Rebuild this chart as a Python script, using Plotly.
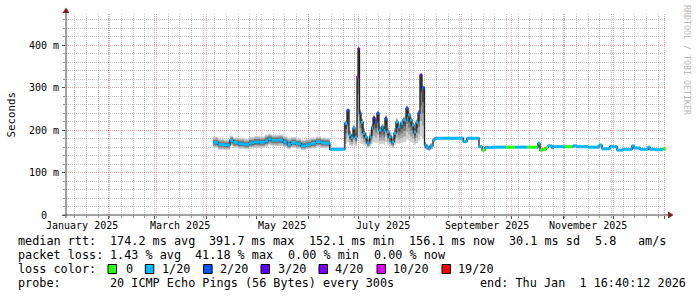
import plotly.graph_objects as go
from datetime import datetime, timedelta

# ---------------- data ----------------
times = [
    "2025-04-05 00:00", "2025-04-08 00:00", "2025-04-11 12:00", "2025-04-15 00:00", "2025-04-17 00:00",
    "2025-04-20 00:00", "2025-04-23 12:00", "2025-04-26 12:00", "2025-04-29 12:00", "2025-05-03 00:00",
    "2025-05-06 00:00", "2025-05-08 00:00", "2025-05-10 00:00", "2025-05-14 00:00", "2025-05-17 00:00",
    "2025-05-19 12:00", "2025-05-21 16:00", "2025-05-24 16:00", "2025-05-27 16:00", "2025-05-30 16:00",
    "2025-06-02 16:00", "2025-06-05 16:00", "2025-06-08 16:00", "2025-06-11 16:00", "2025-06-14 00:00",
    "2025-06-23 00:00", "2025-06-24 07:00", "2025-06-25 12:00", "2025-06-26 17:00", "2025-06-27 22:00",
    "2025-06-29 02:00", "2025-06-30 07:00", "2025-06-30 22:00", "2025-07-01 19:00", "2025-07-02 17:00",
    "2025-07-03 22:00", "2025-07-05 02:00", "2025-07-06 07:00", "2025-07-07 19:00", "2025-07-09 00:00",
    "2025-07-09 22:00", "2025-07-11 02:00", "2025-07-12 07:00", "2025-07-13 12:00", "2025-07-15 00:00",
    "2025-07-16 05:00", "2025-07-17 02:00", "2025-07-18 07:00", "2025-07-19 12:00", "2025-07-21 00:00",
    "2025-07-22 12:00", "2025-07-23 17:00", "2025-07-24 22:00", "2025-07-26 10:00", "2025-07-27 22:00",
    "2025-07-29 17:00", "2025-07-30 22:00", "2025-08-01 02:00", "2025-08-02 07:00", "2025-08-03 12:00",
    "2025-08-04 17:00", "2025-08-05 22:00", "2025-08-07 02:00", "2025-08-08 07:00", "2025-08-09 19:00",
    "2025-08-10 17:00", "2025-08-11 22:00", "2025-08-13 02:00", "2025-08-14 22:00", "2025-08-16 02:00",
    "2025-09-02 00:00", "2025-09-04 07:00", "2025-09-11 12:00", "2025-09-13 07:00", "2025-09-15 02:00",
    "2025-09-19 07:00", "2025-09-27 17:00", "2025-10-03 02:00", "2025-10-10 07:00", "2025-10-16 07:00",
    "2025-10-16 22:00", "2025-10-18 02:00", "2025-10-19 22:00", "2025-10-21 17:00", "2025-10-22 22:00",
    "2025-10-25 07:00", "2025-10-25 22:00", "2025-11-02 02:00", "2025-11-06 07:00", "2025-11-06 22:00",
    "2025-11-09 07:00", "2025-11-15 22:00", "2025-11-22 12:00", "2025-11-24 07:00", "2025-11-29 02:00",
    "2025-12-03 07:00", "2025-12-06 22:00", "2025-12-12 07:00", "2025-12-13 12:00", "2025-12-17 02:00",
    "2025-12-21 22:00", "2025-12-23 02:00", "2025-12-26 02:00", "2025-12-30 22:00",
]
median_ms = [
    171, 166, 165, 176, 171, 168, 166, 170, 172, 171,
    175, 179, 176, 177, 172, 166, 171, 168, 163, 166,
    169, 173, 170, 169, 155,
    216, 247, 189, 182, 205, 184, 326, 392, 240, 219,
    193, 184, 170, 184, 205, 229, 219, 240, 200, 207,
    200, 228, 196, 184, 172, 193, 219, 208, 216, 224,
    252, 236, 224, 212, 196, 219, 240, 330, 300, 165,
    160, 156, 163, 177, 181,
    173, 181, 161, 153, 159, 160, 160, 160, 160, 160,
    169, 153, 155, 159, 163, 158, 161, 161, 161, 163,
    161, 160, 165, 156, 161, 153, 155, 163, 158, 155,
    160, 155, 154, 156,
]
smoke_lo_ms = [
    158, 154, 153, 162, 158, 156, 155, 157, 158, 158,
    161, 164, 162, 163, 160, 155, 158, 156, 153, 155,
    157, 160, 158, 158, 152,
    168, 172, 165, 162, 168, 163, 175, 180, 170, 168,
    165, 162, 158, 162, 168, 172, 170, 172, 166, 168,
    166, 172, 165, 162, 158, 165, 170, 168, 170, 172,
    178, 175, 172, 170, 166, 170, 175, 185, 180, 155,
    153, 152, 155, 172, 178,
    170, 178, 158, 151, 156, 157, 157, 157, 157, 157,
    160, 151, 153, 157, 160, 156, 158, 158, 158, 160,
    158, 157, 160, 153, 158, 151, 153, 157, 155, 153,
    155, 153, 152, 154,
]
smoke_hi_ms = [
    184, 180, 178, 187, 183, 182, 180, 184, 186, 185,
    190, 192, 189, 190, 186, 182, 184, 181, 178, 180,
    183, 185, 183, 182, 159,
    222, 250, 200, 192, 212, 195, 330, 394, 250, 228,
    205, 195, 182, 195, 215, 235, 228, 245, 210, 215,
    208, 235, 205, 195, 185, 205, 228, 215, 222, 232,
    258, 245, 232, 220, 206, 226, 248, 333, 305, 172,
    168, 165, 170, 181, 184,
    176, 184, 164, 156, 162, 163, 163, 163, 163, 163,
    171, 156, 158, 162, 166, 161, 164, 164, 164, 166,
    164, 163, 167, 159, 164, 156, 158, 165, 161, 158,
    162, 158, 157, 159,
]
loss_level = [
    1, 1, 1, 1, 1, 1, 1, 1, 1, 1,
    1, 1, 1, 1, 1, 1, 1, 1, 1, 1,
    1, 1, 1, 1, 1,
    1, 2, 1, 1, 1, 1, 5, 4, 2, 1,
    1, 1, 1, 1, 1, 3, 2, 2, 1, 1,
    1, 2, 1, 1, 1, 1, 1, 1, 1, 1,
    2, 1, 1, 1, 1, 1, 2, 3, 2, 1,
    1, 1, 1, 1, 1,
    1, 1, 1, 0, 1, 1, 0, 1, 0, 1,
    1, 0, 0, 0, 1, 1, 1, 0, 1, 1,
    1, 1, 1, 1, 1, 1, 1, 1, 1, 1,
    1, 1, 1, 0,
]
end_time = "2026-01-01 16:40:12"
start_time = "2025-01-06 16:40:12"

loss_labels = ["0", "1/20", "2/20", "3/20", "4/20", "10/20", "19/20"]
loss_colors = ["#26ff00", "#00b8ff", "#0059ff", "#5e00ff", "#7e00ff", "#dd00ff", "#ff0000"]

month_grid = ["2025-02-01", "2025-03-01", "2025-04-01", "2025-05-01", "2025-06-01", "2025-07-01",
              "2025-08-01", "2025-09-01", "2025-10-01", "2025-11-01", "2025-12-01", "2026-01-01"]
month_labels = ["January 2025", "March 2025", "May 2025", "July 2025", "September 2025", "November 2025"]
month_label_at = ["2025-01-16", "2025-03-16", "2025-05-16", "2025-07-16", "2025-09-16", "2025-11-16"]
y_major = [0, 100, 200, 300, 400]
y_major_text = ["0", "100 m", "200 m", "300 m", "400 m"]
Y_MAX = 474

stats_rtt = ["174.2 ms avg", "391.7 ms max", "152.1 ms min", "156.1 ms now", "30.1 ms sd", "5.8", "am/s"]
stats_loss = ["1.43 % avg", "41.18 % max", "0.00 % min", "0.00 % now"]
probe_text = "20 ICMP Echo Pings (56 Bytes) every 300s"
end_text = "end: Thu Jan\u00a0\u00a01 16:40:12 2026"

# ---------------- layout geometry (pixels) ----------------
W, H = 697, 297
PL, PR, PT, PB = 66, 666, 14, 215
MONO = "DejaVu Sans Mono"


def fx(px):
    return px / W


def fy(py):
    return 1 - py / H


# weekly minor grid (Sundays)
sundays = []
d = datetime(2025, 1, 12)
while d < datetime(2026, 1, 1, 16):
    sundays.append(d.strftime("%Y-%m-%d"))
    d += timedelta(days=7)
y_minor = [v for v in range(20, 480, 20) if v % 100 != 0]

xs = times + [end_time]
ys = median_ms + [median_ms[-1]]
lo = smoke_lo_ms + [smoke_lo_ms[-1]]
hi = smoke_hi_ms + [smoke_hi_ms[-1]]

fig = go.Figure()

# smoke (shaded bands, darker toward the median)
band_fracs = [1.0, 0.75, 0.5, 0.28]
band_cols = ["#cfcfcf", "#a8a8a8", "#7c7c7c", "#4e4e4e"]
for f, c in zip(band_fracs, band_cols):
    lower = [m - f * (m - l) for m, l in zip(ys, lo)]
    upper = [m + f * (h - m) for m, h in zip(ys, hi)]
    fig.add_trace(go.Scatter(x=xs, y=lower, mode="lines", line=dict(width=0, shape="hv"),
                             hoverinfo="skip", showlegend=False))
    fig.add_trace(go.Scatter(x=xs, y=upper, mode="lines", line=dict(width=0, shape="hv"),
                             fill="tonexty", fillcolor=c, hoverinfo="skip", showlegend=False))

# median line
fig.add_trace(go.Scatter(x=xs, y=ys, mode="lines", line=dict(color="#202020", width=1.3, shape="hv"),
                         hoverinfo="skip", showlegend=False))

# loss-coloured median bands
for k, col in enumerate(loss_colors):
    sx, sy = [], []
    for i in range(len(times)):
        if loss_level[i] == k:
            sx += [xs[i], xs[i + 1], None]
            sy += [ys[i], ys[i], None]
    if sx:
        fig.add_trace(go.Scatter(x=sx, y=sy, mode="lines", line=dict(color=col, width=3),
                                 hoverinfo="skip", showlegend=False))

MINOR_C = "rgba(150,150,150,0.55)"
MAJOR_C = "rgba(222,79,79,0.5)"

fig.update_layout(
    width=W, height=H, margin=dict(l=0, r=0, t=0, b=0),
    paper_bgcolor="white", plot_bgcolor="white", showlegend=False,
    xaxis=dict(domain=[fx(PL), fx(PR)], range=[start_time, end_time], type="date",
               tickmode="array", tickvals=month_grid, showticklabels=False,
               showgrid=True, gridcolor=MAJOR_C, griddash="1px,1px", gridwidth=1,
               ticks="outside", ticklen=3, tickcolor="#555555",
               zeroline=False, showline=False, fixedrange=True,
               minor=dict(tickmode="array", tickvals=sundays, showgrid=True, gridcolor=MINOR_C,
                          griddash="1px,1px", gridwidth=1, ticks="outside", ticklen=2,
                          tickcolor="#999999")),
    yaxis=dict(domain=[fy(PB), fy(PT)], range=[0, Y_MAX],
               tickmode="array", tickvals=y_major, showticklabels=False,
               showgrid=True, gridcolor=MAJOR_C, griddash="1px,1px", gridwidth=1,
               ticks="outside", ticklen=3, tickcolor="#555555",
               zeroline=False, showline=False, fixedrange=True,
               minor=dict(tickmode="array", tickvals=y_minor, showgrid=True, gridcolor=MINOR_C,
                          griddash="1px,1px", gridwidth=1, ticks="outside", ticklen=2,
                          tickcolor="#999999")),
)

shapes = []
AX = "#444444"
ARROW = "#801f1f"
shapes.append(dict(type="line", xref="paper", yref="paper", x0=fx(63), x1=fx(669), y0=fy(PB), y1=fy(PB),
                   line=dict(color=AX, width=1)))
shapes.append(dict(type="line", xref="paper", yref="paper", x0=fx(PL), x1=fx(PL), y0=fy(218), y1=fy(11),
                   line=dict(color=AX, width=1)))
shapes.append(dict(type="path", xref="paper", yref="paper",
                   path=f"M {fx(668)},{fy(211.5)} L {fx(673.5)},{fy(PB)} L {fx(668)},{fy(218.5)} Z",
                   fillcolor=ARROW, line=dict(color=ARROW, width=0)))
shapes.append(dict(type="path", xref="paper", yref="paper",
                   path=f"M {fx(62.5)},{fy(13)} L {fx(PL)},{fy(7.5)} L {fx(69.5)},{fy(13)} Z",
                   fillcolor=ARROW, line=dict(color=ARROW, width=0)))

ann = []


def text(x, y, s, size, anchor="left", color="#000000", angle=0, xref="paper", yref="paper"):
    ann.append(dict(x=x, y=y, xref=xref, yref=yref, text=s, showarrow=False, xanchor=anchor,
                    yanchor="middle", textangle=angle,
                    font=dict(family=MONO, size=size, color=color)))


# y tick labels
for v, s in zip(y_major, y_major_text):
    if v == 0:
        text(fx(48.5), v, s, 10, anchor="right", yref="y")
    else:
        text(fx(61), v, s, 10, anchor="right", yref="y")
# month labels
for s, t in zip(month_labels, month_label_at):
    text(t, fy(225), s, 10, anchor="center", xref="x")
# axis title
text(fx(11), fy((PT + PB) / 2), "Seconds", 10.8, anchor="center", angle=-90)
# watermark
text(fx(687), fy(60), "RRDTOOL / TOBI OETIKER", 8.3, anchor="center", color="#b8b8b8", angle=90)

LEG = 11.8
r1, r2, r3, r4 = 241, 255, 269, 283
text(fx(16), fy(r1), "median rtt:", LEG)
for s, xp in zip(stats_rtt, [107.6, 207, 307, 407, 507, 593, 636]):
    text(fx(xp), fy(r1), s, LEG)
text(fx(16), fy(r2), "packet loss:", LEG)
for s, xp in zip(stats_loss, [107.6, 193.5, 286, 372]):
    text(fx(xp), fy(r2), s, LEG)
text(fx(16), fy(r3), "loss color:", LEG)
box_x = [108, 145.3, 203.6, 261, 319, 377, 442]
lab_x = [123.6, 160, 218, 275.6, 333, 391, 456]
for s, c, bx, lx in zip(loss_labels, loss_colors, box_x, lab_x):
    shapes.append(dict(type="rect", xref="paper", yref="paper", x0=fx(bx), x1=fx(bx + 8.5),
                       y0=fy(r3 + 4.5), y1=fy(r3 - 4.5), fillcolor=c, line=dict(color="#000000", width=1)))
    text(fx(lx), fy(r3), s, LEG)
text(fx(16), fy(r4), "probe:", LEG)
text(fx(107.6), fy(r4), probe_text, LEG)
text(fx(478), fy(r4), end_text, LEG)

fig.update_layout(shapes=shapes, annotations=ann)
fig.write_html("out.html")
